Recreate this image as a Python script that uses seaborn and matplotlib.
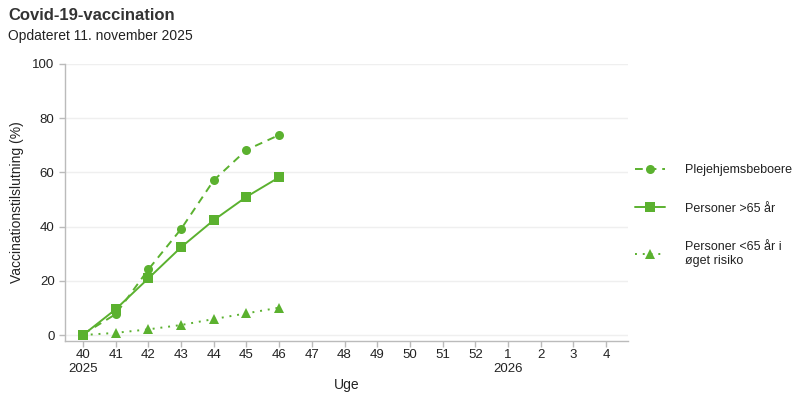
import matplotlib
matplotlib.use("Agg")
import matplotlib.pyplot as plt
import seaborn as sns
import pandas as pd
from matplotlib.lines import Line2D

weeks = ["40", "41", "42", "43", "44", "45", "46", "47", "48", "49", "50", "51", "52", "1", "2", "3", "4"]
data_weeks = ["40", "41", "42", "43", "44", "45", "46"]
series_names = ["Plejehjemsbeboere", "Personer >65 år", "Personer <65 år i\nøget risiko"]
pleje = [0.3, 7.7, 24.2, 39.1, 57.1, 68.3, 73.8]
over65 = [0.0, 9.5, 20.9, 32.4, 42.4, 51.0, 58.2]
risiko = [0.0, 0.8, 2.1, 3.7, 5.9, 8.0, 10.1]
year_labels = {"40": "2025", "1": "2026"}

green = "#5BB12F"

sns.set_theme(style="white")
plt.rcParams['font.family'] = ['Liberation Sans', 'DejaVu Sans']

rows = []
for name, vals in zip(series_names, [pleje, over65, risiko]):
    for w, v in zip(data_weeks, vals):
        rows.append({"pos": weeks.index(w), "value": v, "serie": name})
df = pd.DataFrame(rows)

fig = plt.figure(figsize=(8, 4), dpi=100)
ax = fig.add_axes([0.08125, 0.1475, 0.70375, 0.6925])

markers = {series_names[0]: "o", series_names[1]: "s", series_names[2]: "^"}
dashes = {series_names[0]: (4, 3), series_names[1]: "", series_names[2]: (1, 3)}
sns.lineplot(data=df, x="pos", y="value", hue="serie", style="serie",
             palette=[green] * 3, markers=markers, dashes=dashes,
             markersize=6.5, markeredgewidth=0, linewidth=1.4, ax=ax, legend=False)

ax.set_xlim(-0.55, 16.67)
ax.set_ylim(-2.2, 100)
ax.set_yticks([0, 20, 40, 60, 80, 100])
ax.set_xticks(range(len(weeks)))
ax.set_xticklabels([w + ("\n" + year_labels[w] if w in year_labels else "") for w in weeks])
ax.yaxis.grid(True, color="#efefef", linewidth=1)
ax.xaxis.grid(False)
for s in ["top", "right"]:
    ax.spines[s].set_visible(False)
for s in ["left", "bottom"]:
    ax.spines[s].set_color("#bbbbbb")
    ax.spines[s].set_linewidth(1)
ax.tick_params(axis="both", colors="#bbbbbb", labelcolor="#222222", labelsize=9.5,
               length=4, width=1, direction="out", bottom=True, left=True)
ax.tick_params(axis="x", pad=2)
for lab in ax.get_xticklabels():
    lab.set_verticalalignment("top")
    lab.set_multialignment("center")
ax.set_xlabel("Uge", fontsize=10, color="#222222", labelpad=2)
ax.set_ylabel("Vaccinationstilslutning (%)", fontsize=10, color="#222222", labelpad=6)

fig.text(0.01, 0.96, "Covid-19-vaccination", fontsize=12, fontweight="bold", color="#333333", va="center")
fig.text(0.01, 0.91, "Opdateret 11. november 2025", fontsize=10, color="#222222", va="center")

handles = [
    Line2D([], [], color=green, linestyle=(0, (4, 3)), marker="o", markersize=6.5, markeredgewidth=0, linewidth=1.4),
    Line2D([], [], color=green, linestyle="-", marker="s", markersize=6.5, markeredgewidth=0, linewidth=1.4),
    Line2D([], [], color=green, linestyle=(0, (1, 3)), marker="^", markersize=6.5, markeredgewidth=0, linewidth=1.4),
]
leg = fig.legend(handles, series_names, loc="upper left", bbox_to_anchor=(0.794, 0.589),
                 frameon=False, fontsize=9, handlelength=2.4, handletextpad=1.6,
                 labelspacing=2.1, borderaxespad=0, borderpad=0)
for t in leg.get_texts():
    t.set_color("#222222")

fig.savefig("out.png", dpi=100)
